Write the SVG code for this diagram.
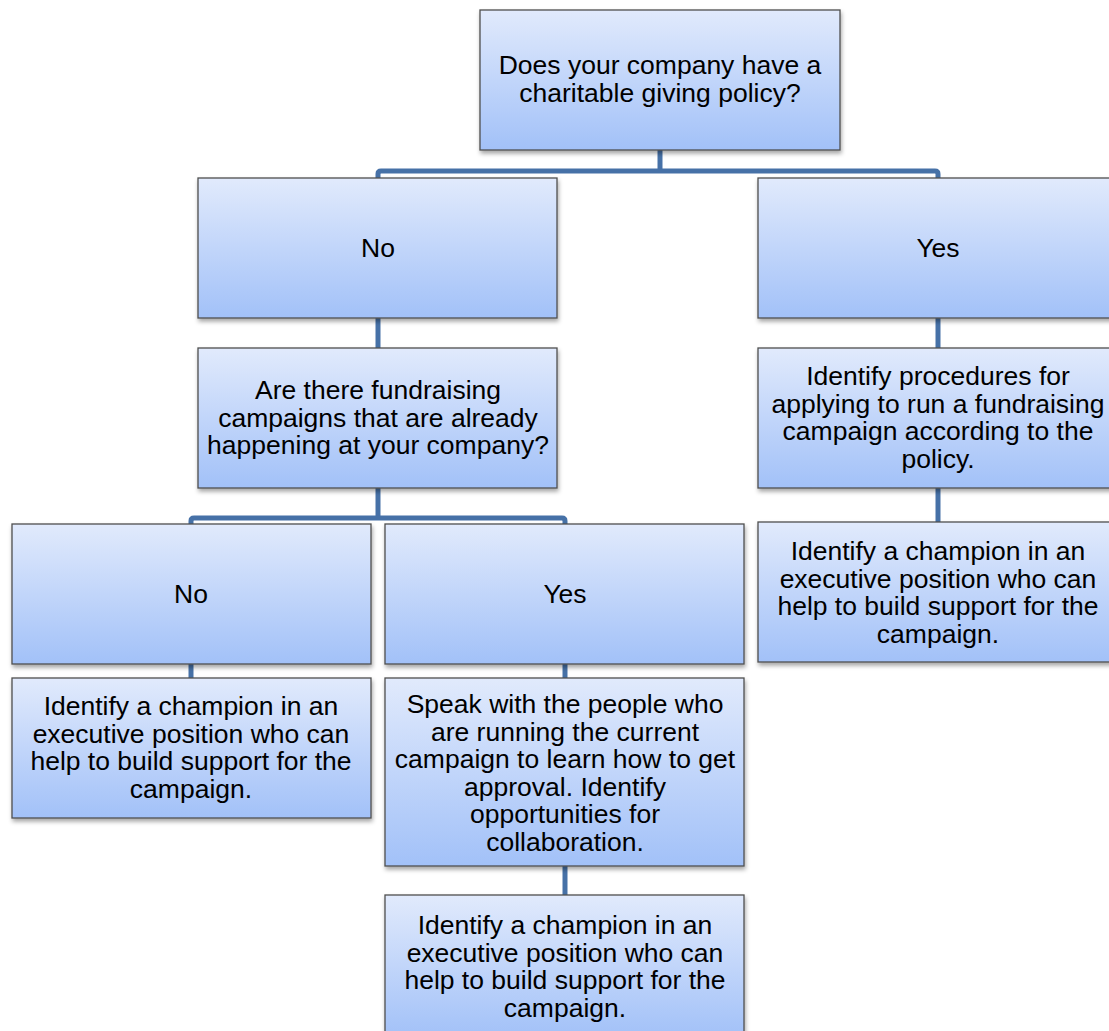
<svg xmlns="http://www.w3.org/2000/svg" width="1109" height="1031" viewBox="0 0 1109 1031">
<defs>
<linearGradient id="g" x1="0" y1="0" x2="0" y2="1">
<stop offset="0" stop-color="#e1eafc"/>
<stop offset="1" stop-color="#a2c1f8"/>
</linearGradient>
<filter id="sh" x="-5%" y="-5%" width="112%" height="120%">
<feDropShadow dx="1" dy="3" stdDeviation="2" flood-color="#000" flood-opacity="0.35"/>
</filter>
<style>
.box{fill:url(#g);stroke:#4f4f4f;stroke-width:1.3;filter:url(#sh)}
.t{font-family:"Liberation Sans",Arial,sans-serif;font-size:26.5px;fill:#000;text-anchor:middle}
.c{fill:none;stroke:#4671a7;stroke-width:5;stroke-linejoin:round}
</style>
</defs>
<rect width="1109" height="1031" fill="#fff"/>
<g id="connectors">
<path class="c" d="M660 150 V171"/>
<path class="c" d="M378 178 V174 Q378 171 381 171 H935 Q938 171 938 174 V178"/>
<path class="c" d="M378 318 V348"/>
<path class="c" d="M938 318 V348"/>
<path class="c" d="M938 488 V522"/>
<path class="c" d="M378 488 V518"/>
<path class="c" d="M191 524 V521 Q191 518 194 518 H562 Q565 518 565 521 V524"/>
<path class="c" d="M191 664 V678"/>
<path class="c" d="M565 664 V678"/>
<path class="c" d="M565 866 V895"/>
</g>
<g id="n-top"><rect class="box" x="480" y="10" width="360" height="140"/>
<text class="t" x="660" y="74">Does your company have a</text><text class="t" x="660" y="101.5">charitable giving policy?</text></g>
<g id="n-no1"><rect class="box" x="198" y="178" width="359" height="140"/>
<text class="t" x="378" y="257">No</text></g>
<g id="n-yes1"><rect class="box" x="758" y="178" width="360" height="140"/>
<text class="t" x="938" y="257">Yes</text></g>
<g id="n-q2"><rect class="box" x="198" y="348" width="359" height="140"/>
<text class="t" x="378" y="399">Are there fundraising</text><text class="t" x="378" y="426.5">campaigns that are already</text><text class="t" x="378" y="454">happening at your company?</text></g>
<g id="n-r2"><rect class="box" x="758" y="348" width="360" height="140"/>
<text class="t" x="938" y="385">Identify procedures for</text><text class="t" x="938" y="412.5">applying to run a fundraising</text><text class="t" x="938" y="440">campaign according to the</text><text class="t" x="938" y="467.5">policy.</text></g>
<g id="n-r3"><rect class="box" x="758" y="522" width="360" height="140"/>
<text class="t" x="938" y="560">Identify a champion in an</text><text class="t" x="938" y="587.5">executive position who can</text><text class="t" x="938" y="615">help to build support for the</text><text class="t" x="938" y="642.5">campaign.</text></g>
<g id="n-no2"><rect class="box" x="12" y="524" width="359" height="140"/>
<text class="t" x="191" y="603">No</text></g>
<g id="n-yes2"><rect class="box" x="385" y="524" width="359" height="140"/>
<text class="t" x="565" y="603">Yes</text></g>
<g id="n-l3"><rect class="box" x="12" y="678" width="359" height="140"/>
<text class="t" x="191" y="715">Identify a champion in an</text><text class="t" x="191" y="742.5">executive position who can</text><text class="t" x="191" y="770">help to build support for the</text><text class="t" x="191" y="797.5">campaign.</text></g>
<g id="n-y3"><rect class="box" x="385" y="678" width="359" height="188"/>
<text class="t" x="565" y="713">Speak with the people who</text><text class="t" x="565" y="740.5">are running the current</text><text class="t" x="565" y="768">campaign to learn how to get</text><text class="t" x="565" y="795.5">approval. Identify</text><text class="t" x="565" y="823">opportunities for</text><text class="t" x="565" y="850.5">collaboration.</text></g>
<g id="n-y4"><rect class="box" x="385" y="895" width="359" height="142"/>
<text class="t" x="565" y="934">Identify a champion in an</text><text class="t" x="565" y="961.5">executive position who can</text><text class="t" x="565" y="989">help to build support for the</text><text class="t" x="565" y="1016.5">campaign.</text></g>
</svg>
